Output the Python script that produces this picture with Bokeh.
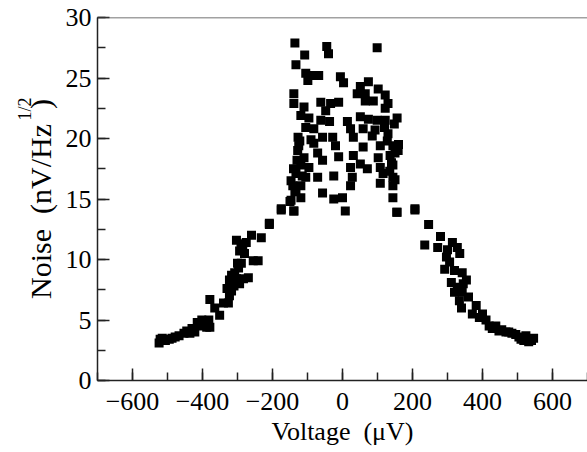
from bokeh.plotting import figure
from bokeh.models import Range1d, SingleIntervalTicker, Span, Title, CustomJSTickFormatter
from bokeh.embed import file_html
from bokeh.resources import INLINE

# ---- data (Voltage in µV, Noise in nV/Hz^1/2) ----
left_v = [-524, -515, -521, -506, -487, -467, -453, -436, -422, -410, -402, -388, -379, -382,
          -379, -365, -351, -340, -326, -323, -317, -323, -317, -308, -303, -297, -289, -294,
          -283, -269, -303, -294, -280, -275, -260, -255, -241, -232, -209, -175, -139,
          -495, -478, -445, -430, -415, -395, -310, -300, -290, -285, -330]
left_n = [3.1, 3.5, 3.4, 3.3, 3.5, 3.7, 3.9, 3.9, 4.0, 4.5, 5.0, 4.4, 4.4, 5.0,
          6.7, 6.0, 5.4, 6.4, 6.4, 7.0, 7.4, 8.3, 8.7, 8.9, 8.4, 9.3, 9.7, 8.0,
          8.4, 8.5, 11.6, 10.7, 10.5, 11.4, 12.0, 9.9, 9.9, 11.8, 12.9, 14.1, 14.0,
          3.4, 3.6, 4.1, 4.3, 4.8, 4.6, 7.8, 9.7, 11.3, 10.9, 7.6]

center_v = [-136, -45, -40, 99, -108, -133, -105, -85, -68, -99, -6, 3, 74, 51, 102, 42, 65,
            122, -139, -139, -62, -34, -11, -48, 65, 88, 130, 122, -119, -96, -62, -37, 14,
            51, 74, 99, 122, 156, -105, -82, 23, 59, 93, -127, -57, -28, 31, 85, 130, -125,
            -82, -20, 59, 108, 144, 159, -110, -71, -11, 31, 102, 136, -119, -96, -57, 23,
            51, 71, 108, 144, -133, -105, -71, -25, 28, 116, 144, -142, -119, 23, 108, 144,
            -57, -119, -25, 0, 144, -175, -139, 8, 156, 207, -209, -147, -133,
            -147, -130, -128, -122, -140, -136, -115, -150, -90, -110, 140, 150, 135, 150,
            128, 160, 120, 148]
center_n = [27.9, 27.6, 27.0, 27.5, 26.9, 26.1, 25.4, 25.2, 25.2, 24.8, 25.1, 24.6, 24.7,
            24.3, 24.1, 23.7, 23.7, 23.6, 23.7, 22.9, 23.0, 22.9, 23.0, 22.3, 23.1, 23.1,
            22.9, 22.5, 21.9, 21.7, 21.5, 21.4, 21.4, 21.8, 21.6, 21.5, 21.5, 21.7, 20.9,
            20.8, 20.8, 20.8, 20.7, 20.1, 20.1, 20.1, 20.1, 20.2, 20.4, 19.4, 19.6, 19.4,
            19.3, 19.4, 19.4, 19.0, 18.4, 18.8, 18.5, 18.6, 18.4, 18.6, 17.8, 17.6, 18.2,
            17.6, 17.9, 17.5, 17.6, 17.8, 17.1, 16.8, 16.8, 16.9, 16.8, 17.1, 16.8, 16.1,
            16.1, 16.1, 16.3, 16.1, 15.5, 15.1, 15.0, 15.1, 15.1, 14.2, 14.0, 14.0, 13.9,
            14.2, 13.0, 14.9, 15.7,
            16.5, 18.2, 19.0, 19.8, 17.5, 15.6, 16.9, 14.8, 19.9, 22.6, 18.0, 18.8, 17.3,
            16.6, 19.8, 19.5, 20.9, 21.2]

right_v = [207, 155, 246, 235, 280, 272, 314, 328, 297, 306, 292, 320, 342, 354, 311, 328,
           320, 342, 334, 340, 382, 371, 391, 410, 419, 428, 447, 467, 484, 504, 518, 532,
           546, 524, 300, 335, 345, 360, 400, 438, 455, 475, 495, 540, 510]
right_n = [14.1, 13.9, 12.9, 11.2, 11.9, 11.0, 11.4, 11.0, 10.2, 9.8, 9.2, 9.1, 8.9, 8.3,
           8.1, 7.7, 7.3, 7.3, 6.6, 6.0, 6.2, 5.5, 5.2, 5.0, 4.5, 4.3, 4.1, 4.0, 3.9, 3.6,
           3.3, 3.2, 3.5, 3.7, 10.8, 10.5, 8.0, 6.9, 5.5, 4.5, 4.2, 4.0, 3.8, 3.3, 3.4]

x_ticks = [-600, -400, -200, 0, 200, 400, 600]
x_tick_labels = ["\u2212600", "\u2212400", "\u2212200", "0", "200", "400", "600"]
x_title = "Voltage\u00a0\u00a0(\u03bcV)"
y_title = "Noise\u00a0\u00a0(nV/Hz\u00a0\u00a0)"
y_title_sup = "1/2"

voltage = left_v + center_v + right_v
noise = left_n + center_n + right_n

FONT = "Liberation Serif"

p = figure(width=587, height=452, output_backend="svg", toolbar_location=None,
           x_range=Range1d(-700, 700), y_range=Range1d(0, 30),
           min_border_left=97, min_border_right=0, min_border_top=17, min_border_bottom=72)
p.outline_line_color = None
p.grid.visible = False
p.background_fill_color = "white"

p.scatter(voltage, noise, marker="square", size=9, fill_color="black", line_color=None)

for ax in (p.xaxis[0], p.yaxis[0]):
    ax.axis_line_color = "#222222"
    ax.axis_line_width = 1.5
    ax.major_tick_line_color = "#222222"
    ax.minor_tick_line_color = "#222222"
    ax.major_tick_line_width = 1.5
    ax.minor_tick_line_width = 1.5
    ax.major_tick_in = 12
    ax.major_tick_out = 0
    ax.minor_tick_in = 8
    ax.minor_tick_out = 0
    ax.major_label_text_font = FONT
    ax.major_label_text_font_size = "26px"
    ax.major_label_text_color = "black"
    ax.axis_label_text_font = FONT
    ax.axis_label_text_font_style = "normal"
    ax.axis_label_text_color = "black"

p.xaxis[0].ticker = SingleIntervalTicker(interval=200, num_minor_ticks=2)
p.xaxis[0].formatter = CustomJSTickFormatter(
    args=dict(tv=x_ticks, tl=x_tick_labels),
    code="const i = tv.indexOf(Math.round(tick)); return i >= 0 ? tl[i] : String(tick);")
p.xaxis[0].major_label_standoff = 12
p.xaxis[0].axis_label = x_title
p.xaxis[0].axis_label_text_font_size = "26px"
p.xaxis[0].axis_label_standoff = 4

p.yaxis[0].ticker = SingleIntervalTicker(interval=5, num_minor_ticks=2)
p.yaxis[0].major_label_standoff = 6
p.yaxis[0].axis_label = y_title
p.yaxis[0].axis_label_text_font_size = "30px"
p.yaxis[0].axis_label_standoff = 6

p.add_layout(Title(text=y_title_sup, align="right", offset=80, standoff=-28,
                   text_font=FONT, text_font_size="18px", text_font_style="normal",
                   text_color="black"), "left")

p.add_layout(Span(location=30, dimension="width", line_color="#444444", line_width=1.5))

open("out.html", "w").write(file_html(p, INLINE))
